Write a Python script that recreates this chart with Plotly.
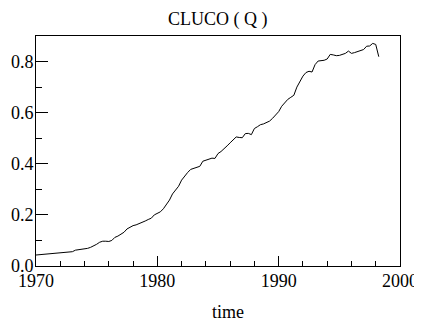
import plotly.graph_objects as go

# Quarterly data, 1970Q1 .. 1998Q2
start_year = 1970
values = [
    0.043, 0.044, 0.045, 0.046,   # 1970
    0.047, 0.048, 0.049, 0.050,   # 1971
    0.052, 0.053, 0.054, 0.055,   # 1972
    0.056, 0.062, 0.063, 0.065,   # 1973
    0.067, 0.069, 0.073, 0.078,   # 1974
    0.085, 0.093, 0.097, 0.097,   # 1975
    0.096, 0.100, 0.112, 0.117,   # 1976
    0.124, 0.132, 0.145, 0.152,   # 1977
    0.158, 0.161, 0.165, 0.170,   # 1978
    0.176, 0.182, 0.187, 0.200,   # 1979
    0.205, 0.212, 0.224, 0.240,   # 1980
    0.258, 0.282, 0.295, 0.312,   # 1981
    0.336, 0.352, 0.366, 0.378,   # 1982
    0.383, 0.387, 0.390, 0.410,   # 1983
    0.415, 0.420, 0.422, 0.421,   # 1984
    0.440, 0.448, 0.458, 0.470,   # 1985
    0.482, 0.495, 0.505, 0.503,   # 1986
    0.502, 0.518, 0.519, 0.514,   # 1987
    0.538, 0.545, 0.553, 0.556,   # 1988
    0.560, 0.567, 0.578, 0.590,   # 1989
    0.604, 0.625, 0.640, 0.652,   # 1990
    0.660, 0.668, 0.700, 0.722,   # 1991
    0.743, 0.757, 0.762, 0.759,   # 1992
    0.788, 0.802, 0.803, 0.805,   # 1993
    0.810, 0.828, 0.826, 0.823,   # 1994
    0.824, 0.827, 0.832, 0.841,   # 1995
    0.832, 0.835, 0.838, 0.842,   # 1996
    0.847, 0.860, 0.861, 0.871,   # 1997
    0.867, 0.819,                 # 1998
]
times = [start_year + i / 4 for i in range(len(values))]

x_tickvals = [1970, 1980, 1990, 2000]
x_ticktext = ["1970", "1980", "1990", "2000"]
y_tickvals = [0.0, 0.2, 0.4, 0.6, 0.8]
y_ticktext = ["0.0", "0.2", "0.4", "0.6", "0.8"]

FONT = "Liberation Serif"

fig = go.Figure()
fig.add_trace(go.Scatter(x=times, y=values, mode="lines",
                         line=dict(color="black", width=1), showlegend=False))

# the page body has an 8px margin, so the figure is 8px smaller and its
# top/left margins are reduced by 8px to keep the plot area in place
fig.update_layout(
    template="none",
    width=414, height=319,
    margin=dict(l=28, r=22, t=28, b=61, autoexpand=False),
    paper_bgcolor="white", plot_bgcolor="white",
    font=dict(family=FONT, size=18, color="black"),
    xaxis=dict(range=[1970, 2000], tickvals=x_tickvals, ticktext=x_ticktext,
               automargin=False, ticklabelstandoff=-2,
               ticks="inside", ticklen=10, tickcolor="black", tickwidth=1,
               showline=True, linecolor="black", linewidth=1, mirror=True,
               showgrid=False, zeroline=False,
               minor=dict(dtick=2, ticks="inside", ticklen=5, tickcolor="black", showgrid=False),
               tickfont=dict(family=FONT, size=18, color="black")),
    yaxis=dict(range=[0, 0.9], tickvals=y_tickvals, ticktext=y_ticktext,
               automargin=False, ticklabelstandoff=-2,
               ticks="inside", ticklen=12, tickcolor="black", tickwidth=1,
               showline=True, linecolor="black", linewidth=1, mirror=True,
               showgrid=False, zeroline=False,
               minor=dict(dtick=0.1, ticks="inside", ticklen=6, tickcolor="black", showgrid=False),
               tickfont=dict(family=FONT, size=18, color="black")),
    annotations=[
        dict(text="CLUCO ( Q )", xref="paper", yref="paper", x=0.5, y=1.07,
             xanchor="center", yanchor="middle", showarrow=False,
             font=dict(family=FONT, size=18, color="black")),
        dict(text="time", xref="paper", yref="paper", x=0.527, y=-0.2,
             xanchor="center", yanchor="middle", showarrow=False,
             font=dict(family=FONT, size=18, color="black")),
    ],
)

fig.write_html("out.html")
